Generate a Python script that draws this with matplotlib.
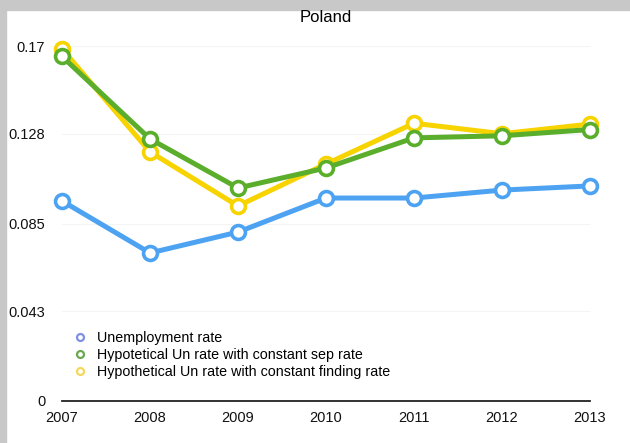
import matplotlib.pyplot as plt
from matplotlib.lines import Line2D
from matplotlib.patches import Rectangle

plt.rcParams['font.family'] = ['Liberation Sans', 'DejaVu Sans']

years = [2007, 2008, 2009, 2010, 2011, 2012, 2013]
unemp = [0.0958, 0.0709, 0.0809, 0.0972, 0.0972, 0.1010, 0.1030]
const_sep = [0.1650, 0.1255, 0.1020, 0.1116, 0.1260, 0.1270, 0.1300]
const_find = [0.1686, 0.1193, 0.0934, 0.1135, 0.1330, 0.1280, 0.1326]
yticks = [0, 0.043, 0.085, 0.128, 0.17]
ytick_labels = ['0', '0.043', '0.085', '0.128', '0.17']

blue = '#4da3f2'
green = '#5aae2c'
yellow = '#f7d300'

fig = plt.figure(figsize=(6.3, 4.43), dpi=100)
# grey frame strips along top and left edge
fig.patches.append(Rectangle((0, 1 - 10 / 443), 1, 10 / 443, transform=fig.transFigure,
                             color='#c8c8c8', zorder=0))
fig.patches.append(Rectangle((0, 0), 6 / 630, 1, transform=fig.transFigure,
                             color='#c8c8c8', zorder=0))

ax = fig.add_axes([62 / 630, 42 / 443, 528 / 630, 355 / 443])

style = dict(lw=3.6, marker='o', ms=10, mfc='white', mew=2.6, clip_on=False)
ax.plot(years, unemp, color=blue, zorder=3, **style)
ax.plot(years, const_find, color=yellow, zorder=4, **style)
ax.plot(years, const_sep, color=green, zorder=5, **style)

ax.set_xlim(2007, 2013)
ax.set_ylim(0, 0.17)
ax.set_yticks(yticks)
ax.set_yticklabels(ytick_labels)
ax.set_xticks(years)
ax.tick_params(length=0, labelsize=10.5, colors='#111111')
ax.tick_params(axis='y', pad=12)
ax.tick_params(axis='x', pad=7)
ax.grid(axis='y', color='#f4f4f4', lw=0.8)
ax.set_axisbelow(True)
for s in ['top', 'right', 'left']:
    ax.spines[s].set_visible(False)
ax.spines['bottom'].set_color('#222222')
ax.spines['bottom'].set_linewidth(1.3)

fig.text(326 / 630, 1 - 17 / 443, 'Poland', ha='center', va='center', fontsize=12)

handles = [
    Line2D([], [], ls='none', marker='o', ms=5, mfc='white', mew=1.6, mec='#7f8fe6'),
    Line2D([], [], ls='none', marker='o', ms=5, mfc='white', mew=1.6, mec='#6aa84f'),
    Line2D([], [], ls='none', marker='o', ms=5, mfc='white', mew=1.6, mec='#f5d75a'),
]
labels = ['Unemployment rate',
          'Hypotetical Un rate with constant sep rate',
          'Hypothetical Un rate with constant finding rate']
ax.legend(handles, labels, loc='upper left', bbox_to_anchor=(64 / 630, 1 - 324 / 443),
          bbox_transform=fig.transFigure, frameon=False, fontsize=10.3,
          handletextpad=0.6, labelspacing=0.2, handlelength=1.2, borderpad=0)

fig.savefig('out.png', dpi=100)
